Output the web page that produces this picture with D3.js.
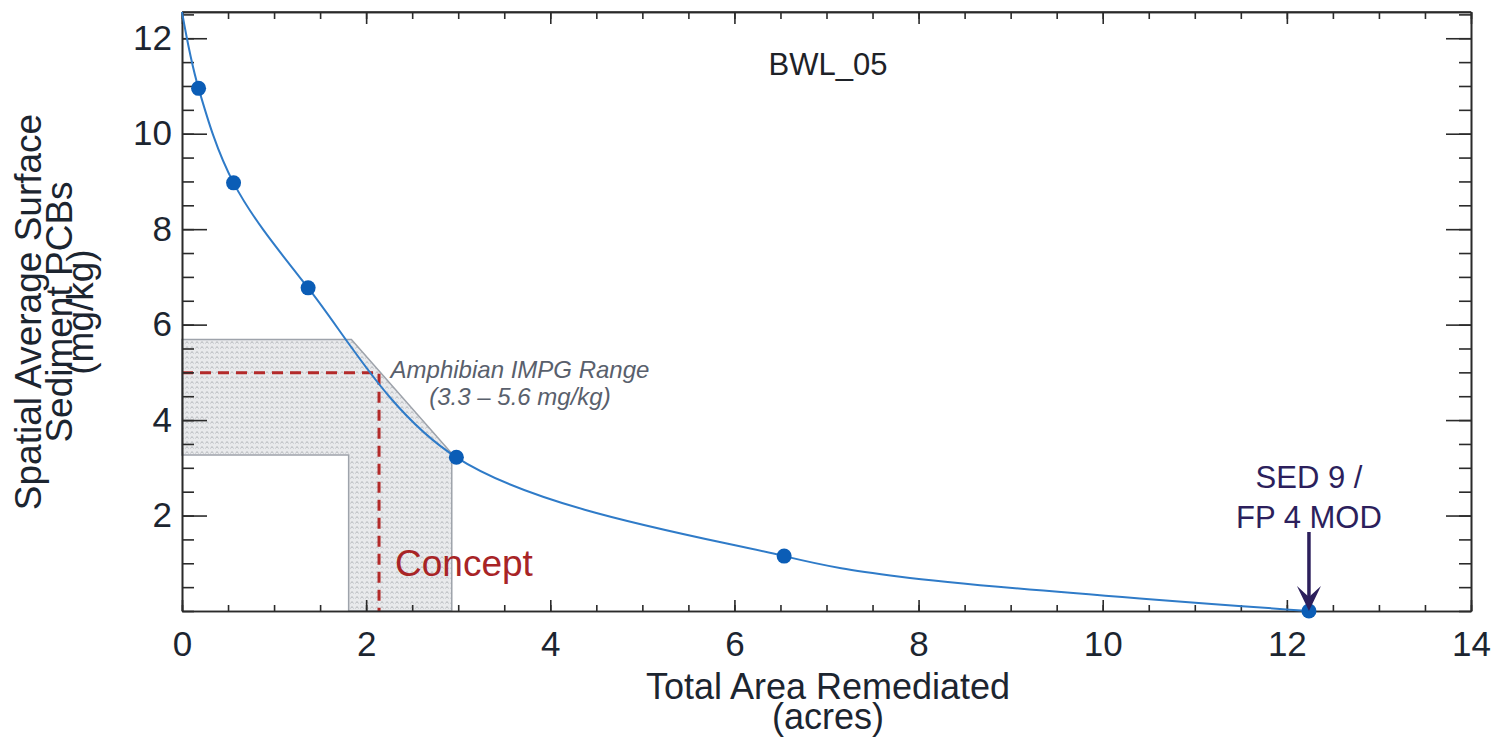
<html>
<head>
  <script src="https://d3js.org/d3.v7.min.js"></script>
  <style>
    body { margin: 0; background: #fff; }
    text { font-family: "Liberation Sans", Arial, sans-serif; }
  </style>
</head>
<body>
  <div id="plot"></div>
  <script>

    // curve vertices (acres, mg/kg)
    var curveX = [0, 0.18, 0.56, 1.37, 2.98, 6.54, 7.8, 12.24];
    var curveY = [12.55, 10.95, 8.97, 6.77, 3.22, 1.15, 0.72, 0];

    // marked scenarios
    var pointX = [0.18, 0.56, 1.37, 2.98, 6.54, 12.24];
    var pointY = [10.95, 8.97, 6.77, 3.22, 1.15, 0];

    var xTicks = [0, 2, 4, 6, 8, 10, 12, 14];
    var yTicks = [2, 4, 6, 8, 10, 12];

    // IMPG range band and concept marker
    var rangeLow = 3.27, rangeHigh = 5.69;
    var bandX0 = 1.81, bandX1 = 2.93, bandTopX = 1.84;
    var conceptX = 2.14, conceptY = 4.99;
    var sedX = 12.24;

    var W = 1493, H = 739;
    var pL = 182, pR = 1471, pT = 12, pB = 611;

    var svg = d3.select('#plot').append('svg')
      .attr('width', W).attr('height', H);

    var x = d3.scaleLinear().domain([0, 14]).range([pL, pR]);
    var y = d3.scaleLinear().domain([0, 12.55]).range([pB, pT]);

    var defs = svg.append('defs');
    var pat = defs.append('pattern')
      .attr('id', 'dots').attr('width', 5).attr('height', 5)
      .attr('patternUnits', 'userSpaceOnUse');
    pat.append('rect').attr('width', 5).attr('height', 5).attr('fill', '#e9eaec');
    pat.append('path').attr('d', 'M0.5,3.5 L2,1.5 L3.5,3.5')
      .attr('stroke', '#a9adb3').attr('stroke-width', 0.8).attr('fill', 'none');

    // shaded range band (L shape)
    var band = [
      [0, rangeHigh], [bandTopX, rangeHigh], [bandX1, 3.3], [bandX1, 0],
      [bandX0, 0], [bandX0, rangeLow], [0, rangeLow]
    ];
    svg.append('path')
      .attr('d', d3.line().x(function(d){ return x(d[0]); }).y(function(d){ return y(d[1]); })(band) + 'Z')
      .attr('fill', 'url(#dots)')
      .attr('stroke', '#9ea3ab')
      .attr('stroke-width', 1.5);

    // red dashed concept lines
    svg.append('path')
      .attr('d', 'M' + x(0) + ',' + y(conceptY) + 'H' + x(conceptX) + 'V' + y(0))
      .attr('fill', 'none')
      .attr('stroke', '#b32a2a')
      .attr('stroke-width', 3)
      .attr('stroke-dasharray', '11,7');

    // axes: minor and major ticks on every side, pointing inward
    var minor = d3.range(0, 14.01, 0.5);
    var minorY = d3.range(0, 12.51, 0.5);

    function frame(axis, tr) {
      var g = svg.append('g').attr('transform', tr).call(axis);
      g.selectAll('path, line').attr('stroke', '#2b2b2b').attr('stroke-width', 1.6);
      g.selectAll('text').attr('fill', '#1c2530').style('font-size', '35px')
        .style('font-family', '"Liberation Sans", Arial, sans-serif');
      return g;
    }

    frame(d3.axisBottom(x).tickValues(minor).tickSize(-6).tickFormat('').tickSizeOuter(0), 'translate(0,' + pB + ')');
    frame(d3.axisBottom(x).tickValues(xTicks).tickSize(-11).tickPadding(20).tickFormat(d3.format('d')).tickSizeOuter(0), 'translate(0,' + pB + ')');
    frame(d3.axisTop(x).tickValues(minor).tickSize(-7).tickFormat('').tickSizeOuter(0), 'translate(0,' + pT + ')');
    frame(d3.axisTop(x).tickValues(xTicks).tickSize(-12).tickFormat('').tickSizeOuter(0), 'translate(0,' + pT + ')');
    frame(d3.axisLeft(y).tickValues(minorY).tickSize(-12).tickFormat('').tickSizeOuter(0), 'translate(' + pL + ',0)');
    frame(d3.axisLeft(y).tickValues(yTicks).tickSize(-25).tickPadding(10).tickFormat(d3.format('d')).tickSizeOuter(0), 'translate(' + pL + ',0)');
    frame(d3.axisRight(y).tickValues(minorY).tickSize(-12).tickFormat('').tickSizeOuter(0), 'translate(' + pR + ',0)');
    frame(d3.axisRight(y).tickValues(yTicks).tickSize(-25).tickFormat('').tickSizeOuter(0), 'translate(' + pR + ',0)');

    svg.append('line').attr('x1', pL).attr('x2', pR).attr('y1', pT).attr('y2', pT)
      .attr('stroke', '#2b2b2b').attr('stroke-width', 1.6);

    // curve
    var curve = curveX.map(function(d, i){ return [d, curveY[i]]; });
    svg.append('path')
      .attr('d', d3.line().curve(d3.curveCatmullRom.alpha(0.5))
        .x(function(d){ return x(d[0]); }).y(function(d){ return y(d[1]); })(curve))
      .attr('fill', 'none')
      .attr('stroke', '#2f7bc8')
      .attr('stroke-width', 2);

    svg.selectAll('.pt').data(pointX).enter().append('circle')
      .attr('class', 'pt')
      .attr('cx', function(d){ return x(d); })
      .attr('cy', function(d, i){ return y(pointY[i]); })
      .attr('r', 7.5)
      .attr('fill', '#0b5db6');

    // labels
    svg.append('text').attr('x', 828).attr('y', 75)
      .attr('text-anchor', 'middle').style('font-size', '31px').attr('fill', '#1e2228')
      .text('BWL_05');

    svg.append('text').attr('x', 520).attr('y', 378)
      .attr('text-anchor', 'middle').style('font-size', '24px').style('font-style', 'italic')
      .attr('fill', '#59606c').text('Amphibian IMPG Range');
    svg.append('text').attr('x', 520).attr('y', 405)
      .attr('text-anchor', 'middle').style('font-size', '24px').style('font-style', 'italic')
      .attr('fill', '#59606c').text('(3.3 \u2013 5.6 mg/kg)');

    svg.append('text').attr('x', 395).attr('y', 576)
      .style('font-size', '37px').attr('fill', '#a82426').text('Concept');

    svg.append('text').attr('x', x(sedX)).attr('y', 488)
      .attr('text-anchor', 'middle').style('font-size', '31px').attr('fill', '#2c1f5c').text('SED 9 /');
    svg.append('text').attr('x', x(sedX)).attr('y', 528)
      .attr('text-anchor', 'middle').style('font-size', '31px').attr('fill', '#2c1f5c').text('FP 4 MOD');

    // arrow
    var ax = x(sedX);
    svg.append('line').attr('x1', ax).attr('x2', ax).attr('y1', 532).attr('y2', 600)
      .attr('stroke', '#2c1f5c').attr('stroke-width', 3.5);
    svg.append('path')
      .attr('d', 'M' + (ax - 12) + ',' + 586 + 'L' + ax + ',' + 611 + 'L' + (ax + 12) + ',' + 586 + 'L' + ax + ',' + 597 + 'Z')
      .attr('fill', '#2c1f5c');

    // axis titles
    svg.append('text').attr('x', 828).attr('y', 699)
      .attr('text-anchor', 'middle').style('font-size', '36px').attr('fill', '#1c2530')
      .text('Total Area Remediated');
    svg.append('text').attr('x', 828).attr('y', 729)
      .attr('text-anchor', 'middle').style('font-size', '36px').attr('fill', '#1c2530')
      .text('(acres)');

    var yTitle = [
      { t: 'Spatial Average Surface', bx: 41 },
      { t: 'Sediment PCBs', bx: 72 },
      { t: '(mg/kg)', bx: 93 }
    ];
    svg.selectAll('.ytitle').data(yTitle).enter().append('text')
      .attr('class', 'ytitle')
      .attr('transform', function(d){ return 'translate(' + d.bx + ',312) rotate(-90)'; })
      .attr('text-anchor', 'middle')
      .style('font-size', '37px')
      .attr('fill', '#1c2530')
      .text(function(d){ return d.t; });
  </script>
</body>
</html>
